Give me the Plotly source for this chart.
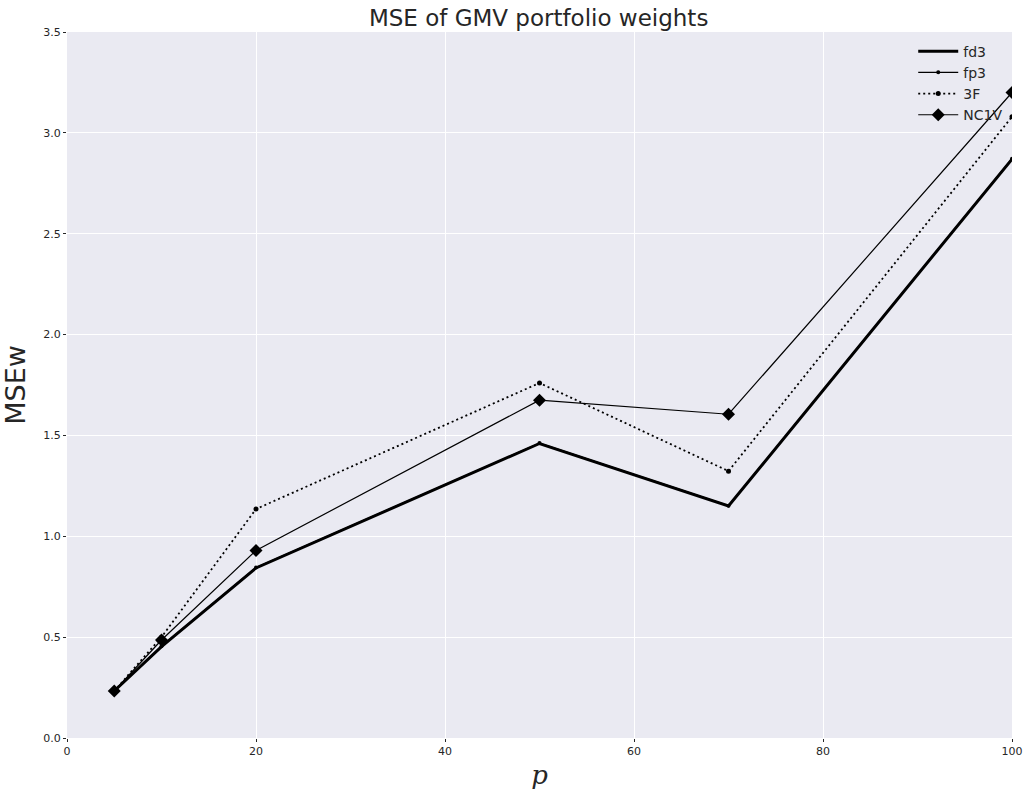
import plotly.graph_objects as go

# Portfolio dimension p and MSE of GMV weights per estimator
p = [5, 10, 20, 50, 70, 100]
fd3 = [0.233, 0.453, 0.843, 1.46, 1.15, 2.87]
fp3 = [0.233, 0.455, 0.845, 1.462, 1.152, 2.872]
f3 = [0.233, 0.50, 1.135, 1.76, 1.323, 3.08]
nc1v = [0.233, 0.486, 0.93, 1.675, 1.605, 3.20]

x_ticks = [0, 20, 40, 60, 80, 100]
y_ticks = [0.0, 0.5, 1.0, 1.5, 2.0, 2.5, 3.0, 3.5]

fig = go.Figure()
fig.add_trace(go.Scatter(x=p, y=fd3, name="fd3", mode="lines",
                         line=dict(color="black", width=3)))
fig.add_trace(go.Scatter(x=p, y=fp3, name="fp3", mode="lines+markers",
                         line=dict(color="black", width=1.2),
                         marker=dict(color="black", size=4)))
fig.add_trace(go.Scatter(x=p, y=f3, name="3F", mode="lines+markers",
                         line=dict(color="black", width=1.8, dash="2px,3px"),
                         marker=dict(color="black", size=5)))
fig.add_trace(go.Scatter(x=p, y=nc1v, name="NC1V", mode="lines+markers",
                         line=dict(color="black", width=1.2),
                         marker=dict(color="black", size=10, symbol="diamond")))

fig.update_layout(
    width=1025, height=793,
    margin=dict(l=67, r=13, t=32, b=55),
    paper_bgcolor="white",
    plot_bgcolor="#EAEAF2",
    font=dict(family="DejaVu Sans", color="#262626", size=11),
    title=dict(text="MSE of GMV portfolio weights", x=0.5255, xanchor="center",
               y=0.977, yanchor="middle", font=dict(size=23, color="#262626")),
    showlegend=True,
    legend=dict(x=0.996, y=0.995, xanchor="right", yanchor="top",
                bgcolor="rgba(0,0,0,0)", font=dict(size=14, color="#262626"),
                tracegroupgap=0, itemwidth=40),
    xaxis=dict(range=[0, 100], tickvals=x_ticks, showgrid=True, gridcolor="white",
               gridwidth=1.2, zeroline=False, ticks="outside", ticklen=3,
               tickcolor="#262626", tickfont=dict(size=11), automargin=False,
               title=dict(text="<i>p</i>", font=dict(family="DejaVu Serif", size=26),
                          standoff=8)),
    yaxis=dict(range=[0, 3.5], tickvals=y_ticks, tickformat=".1f", showgrid=True,
               gridcolor="white", gridwidth=1.2, zeroline=False, ticks="outside",
               ticklen=3, tickcolor="#262626", tickfont=dict(size=11),
               automargin=False,
               title=dict(text="MSEw", font=dict(size=27), standoff=14)),
)

fig.write_html("out.html")
